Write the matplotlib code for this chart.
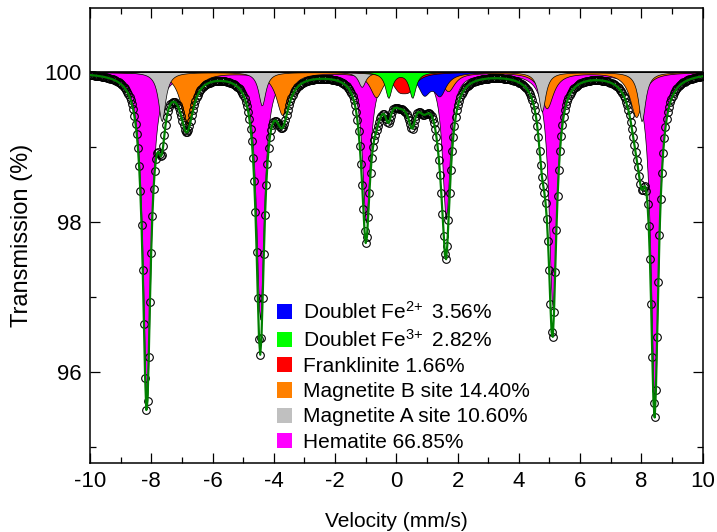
import matplotlib

matplotlib.use("Agg")
import matplotlib.pyplot as plt
import numpy as np
from matplotlib.patches import Patch
from matplotlib.ticker import MultipleLocator

plt.rcParams["font.family"] = ["Liberation Sans", "DejaVu Sans"]
plt.rcParams["mathtext.default"] = "regular"
plt.rcParams["axes.unicode_minus"] = False

# Mossbauer subspectra: line positions (mm/s),
# line depths (% absorption) and Lorentzian half widths (mm/s)
hematite_pos = [-8.15, -4.45, -0.99, 1.62, 5.10, 8.43]
hematite_depth = [4.45, 3.30, 2.00, 1.95, 3.15, 4.45]
hematite_hwhm = 0.15

magA_pos = [-7.66, -4.39, -1.13, 1.49, 4.75, 8.01]
magA_depth = [0.66, 0.45, 0.20, 0.15, 0.53, 0.66]
magA_hwhm = 0.14

magB_pos = [-6.84, -3.72, -0.66, 1.69, 4.91, 7.83]
magB_depth = [0.71, 0.57, 0.33, 0.25, 0.48, 0.60]
magB_hwhm = 0.25

fe3_pos = [-0.26, 0.52]
fe3_depth = [0.34, 0.34]
fe3_hwhm = 0.13

fe2_pos = [0.90, 1.42]
fe2_depth = [0.27, 0.28]
fe2_hwhm = 0.24

frank_pos = [0.08, 0.40]
frank_depth = [0.19, 0.19]
frank_hwhm = 0.28

labels = ["Doublet Fe$^{2\\!+}$ 3.56%", "Doublet Fe$^{3\\!+}$ 2.82%",
          "Franklinite 1.66%", "Magnetite B site 14.40%",
          "Magnetite A site 10.60%", "Hematite 66.85%"]
colors = ["#0000ff", "#00ff00", "#ff0000", "#ff8000", "#c0c0c0", "#ff00ff"]

# velocity channels of the spectrometer
velocity = np.linspace(-10.0, 10.0, 512)


def lorentz_lines(v, pos, depth, hwhm):
    out = np.zeros_like(v)
    for p, d in zip(pos, depth):
        out += d * hwhm ** 2 / (hwhm ** 2 + (v - p) ** 2)
    return out


comps = {
    "fe2": lorentz_lines(velocity, fe2_pos, fe2_depth, fe2_hwhm),
    "fe3": lorentz_lines(velocity, fe3_pos, fe3_depth, fe3_hwhm),
    "frank": lorentz_lines(velocity, frank_pos, frank_depth, frank_hwhm),
    "magB": lorentz_lines(velocity, magB_pos, magB_depth, magB_hwhm),
    "magA": lorentz_lines(velocity, magA_pos, magA_depth, magA_hwhm),
    "hem": lorentz_lines(velocity, hematite_pos, hematite_depth, hematite_hwhm),
}
total = sum(comps.values())
fit = 100.0 - total

fig = plt.figure(figsize=(7.17, 5.32), dpi=100)
ax = fig.add_axes([0.1255, 0.1297, 0.8545, 0.855])

# drawing order, bottom to top (sextets first, doublets over their tails)
order = [("hem", "#ff00ff"), ("magB", "#ff8000"), ("magA", "#c0c0c0"),
         ("fe2", "#0000ff"), ("frank", "#ff0000"), ("fe3", "#00ff00")]
for z, (key, col) in enumerate(order):
    ax.fill_between(velocity, 100.0, 100.0 - comps[key], facecolor=col,
                    edgecolor="black", lw=0.5, zorder=1 + z)
ax.axhline(100.0, color="black", lw=1.2, zorder=8)

ax.plot(velocity, fit, "o", ms=5.5, mfc="none", mec="black", mew=0.8,
        zorder=9)
ax.plot(velocity, fit, "-", color="#008000", lw=1.6, zorder=10)

ax.set_xlim(-10, 10)
ax.set_ylim(94.78, 100.85)
ax.xaxis.set_major_locator(MultipleLocator(2))
ax.xaxis.set_minor_locator(MultipleLocator(1))
ax.yaxis.set_major_locator(MultipleLocator(2))
ax.yaxis.set_minor_locator(MultipleLocator(1))
ax.tick_params(which="both", direction="in", top=True, right=True,
               labelsize=16, width=0.9)
ax.tick_params(which="major", length=7, pad=6)
ax.tick_params(which="minor", length=4.3)
for s in ax.spines.values():
    s.set_linewidth(1.1)

ax.set_xlabel("Velocity (mm/s)", fontsize=15, labelpad=14)
ax.set_ylabel("Transmission (%)", fontsize=17, labelpad=8)

handles = [Patch(facecolor=c, edgecolor="none") for c in colors]
ax.legend(handles, labels, loc="upper left", bbox_to_anchor=(0.305, 0.357),
          frameon=False, fontsize=15, handlelength=0.75, handleheight=0.75,
          handletextpad=0.5, labelspacing=0.3, borderpad=0,
          borderaxespad=0)

fig.savefig("out.png", dpi=100)
